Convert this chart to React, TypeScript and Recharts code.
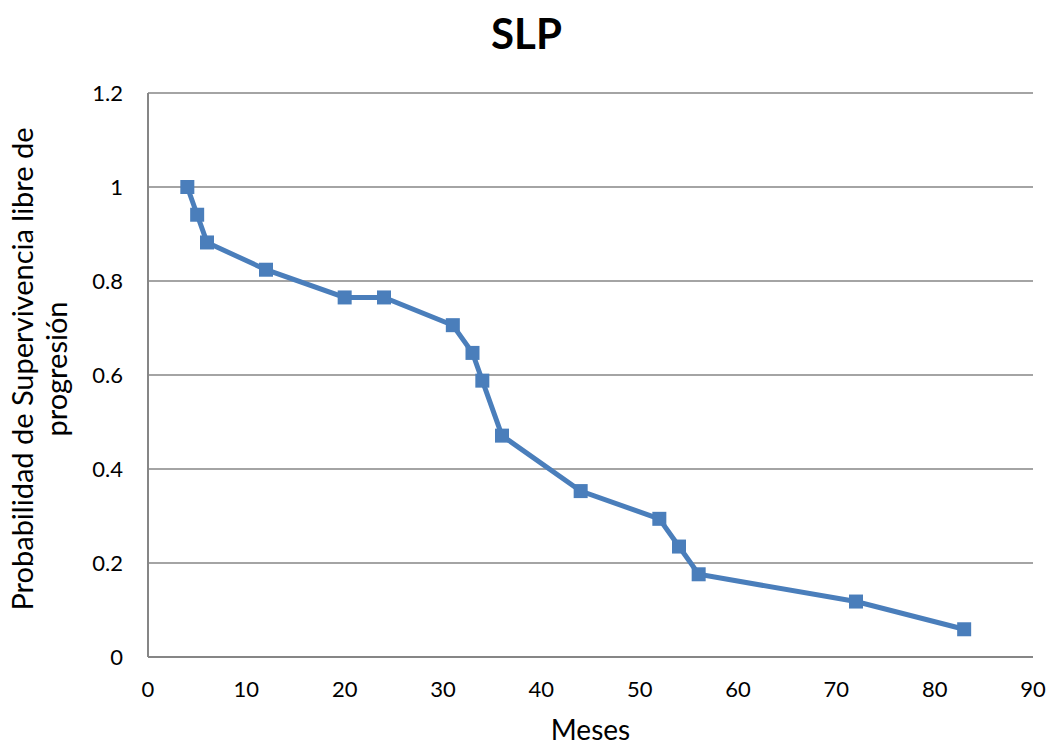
import React from "react";
import { CartesianGrid, Line, LineChart, XAxis, YAxis } from "recharts";

// months at each event
const months = [4, 5, 6, 12, 20, 24, 31, 33, 34, 36, 44, 52, 54, 56, 72, 83];
// progression-free survival probability
const survival = [
  1, 0.941, 0.882, 0.824, 0.765, 0.765, 0.706, 0.647, 0.588, 0.471, 0.353,
  0.294, 0.235, 0.176, 0.118, 0.059,
];
const xTicks = [0, 10, 20, 30, 40, 50, 60, 70, 80, 90];
const yTicks = [0, 0.2, 0.4, 0.6, 0.8, 1, 1.2];

const data = months.map((m, i) => ({ m, p: survival[i] }));

const FONT = "Lato, 'Open Sans', sans-serif";
const BLUE = "#4a7ebb";
const GRAY = "#868686";

const SquareDot = (props: any) => {
  const { cx, cy } = props;
  if (cx == null || cy == null) return null;
  return <rect x={cx - 7} y={cy - 7} width={14} height={14} fill={BLUE} />;
};

const YLabel = ({ viewBox }: any) => {
  const cy = viewBox.y + viewBox.height / 2 - 6;
  return (
    <g fontFamily={FONT} fontSize={29} fill="#000">
      <text x={33} y={cy} textAnchor="middle" transform={`rotate(-90, 33, ${cy})`}>
        Probabilidad de Supervivencia libre de
      </text>
      <text x={67} y={cy} textAnchor="middle" transform={`rotate(-90, 67, ${cy})`}>
        progresión
      </text>
    </g>
  );
};

export default function App() {
  return (
    <div style={{ position: "absolute", left: 0, top: 0, width: 1053, height: 747, background: "#fff" }}>
      <div
        style={{
          position: "absolute",
          left: 0,
          width: 1053,
          top: 8,
          textAlign: "center",
          fontFamily: FONT,
          fontWeight: 700,
          fontSize: 42,
          lineHeight: "50px",
        }}
      >
        SLP
      </div>
      <LineChart
        width={1053}
        height={747}
        data={data}
        margin={{ top: 93, right: 20, bottom: 0, left: 88 }}
      >
        <CartesianGrid vertical={false} stroke={GRAY} strokeWidth={1.5} />
        <XAxis
          dataKey="m"
          type="number"
          domain={[0, 90]}
          ticks={xTicks}
          tickLine={false}
          tickSize={0}
          tickMargin={24}
          axisLine={{ stroke: GRAY, strokeWidth: 2 }}
          tick={{ fill: "#000", fontSize: 22, fontFamily: FONT }}
          height={90}
          label={{
            value: "Meses",
            position: "insideBottom",
            offset: 7,
            fill: "#000",
            fontSize: 28,
            fontFamily: FONT,
          }}
        />
        <YAxis
          type="number"
          domain={[0, 1.2]}
          ticks={yTicks}
          tickLine={false}
          tickSize={0}
          tickMargin={25}
          width={60}
          axisLine={{ stroke: GRAY, strokeWidth: 2 }}
          tick={{ fill: "#000", fontSize: 22, fontFamily: FONT }}
          label={<YLabel />}
        />
        <Line
          dataKey="p"
          stroke={BLUE}
          strokeWidth={5}
          dot={<SquareDot />}
          activeDot={false}
          isAnimationActive={false}
        />
      </LineChart>
    </div>
  );
}
